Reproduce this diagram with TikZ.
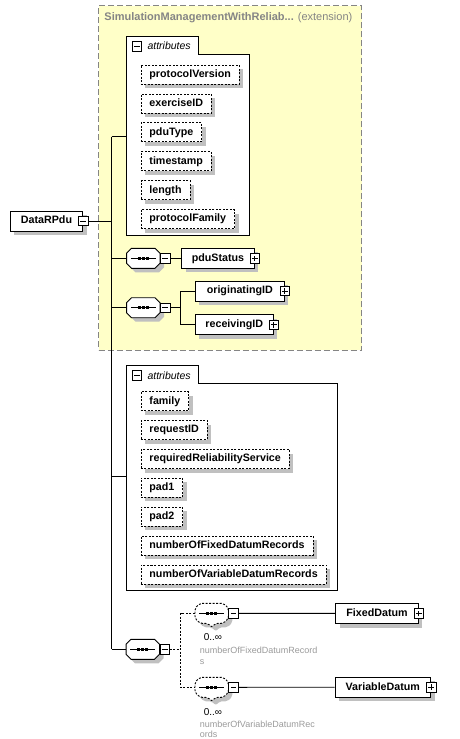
\documentclass[tikz,border=0pt]{standalone}
\usepackage{fontspec}
\setmainfont{Liberation Sans}
\usetikzlibrary{positioning,shadows}
\definecolor{extensionfill}{HTML}{FFFFC8}
\definecolor{extensiondraw}{HTML}{858585}
\definecolor{shadowgray}{HTML}{C0C0C0}
\definecolor{notegray}{HTML}{9A9A9A}

\begin{document}
\begin{tikzpicture}[
    x=1pt, y=-1pt,
    line width=0.9pt,
    shadowed/.style={general shadow={fill=shadowgray, shadow xshift=4pt, shadow yshift=-4pt}},
    element node/.style={rectangle, draw, fill=white, shadowed, minimum height=20pt, inner sep=0pt, text height=8pt, text depth=2.4pt, font=\fontsize{10.7}{12}\selectfont\bfseries},
    attribute node/.style={element node, dash pattern=on 2pt off 1.5pt, minimum height=19pt, inner xsep=8.5pt},
    extension box/.style={rectangle, draw=extensiondraw, fill=extensionfill, dash pattern=on 6pt off 3pt, inner sep=0pt, outer sep=0pt},
    group frame/.style={rectangle, inner sep=0pt, outer sep=0pt},
    tab label/.style={inner sep=0pt, font=\fontsize{10.5}{12}\selectfont\itshape},
    minus toggle/.style={rectangle, draw, solid, fill=white, minimum size=9.6pt, inner sep=0pt, line width=0.8pt,
        path picture={\draw[solid, line width=0.8pt] ([xshift=2pt]path picture bounding box.west) -- ([xshift=-2pt]path picture bounding box.east);}},
    plus toggle/.style={rectangle, draw, solid, fill=white, minimum size=9.6pt, inner sep=0pt, line width=0.8pt,
        path picture={\draw[solid, line width=0.8pt] ([xshift=2pt]path picture bounding box.west) -- ([xshift=-2pt]path picture bounding box.east)
                                                 ([yshift=2pt]path picture bounding box.south) -- ([yshift=-2pt]path picture bounding box.north);}},
    sequence node/.style={rectangle, minimum width=33.5pt, minimum height=20pt, inner sep=0pt, outer sep=0pt},
    sequence dots/.style={path picture={
          \draw[black, solid, sharp corners, line width=0.8pt] ([xshift=-12.5pt, yshift=#1]path picture bounding box.center) -- ([xshift=12.5pt, yshift=#1]path picture bounding box.center);
          \foreach \dx in {-4,0,4}
            \fill[black, sharp corners] ([xshift=\dx pt, yshift=#1]path picture bounding box.center) ++(-1.4pt,-1.4pt) rectangle ++(2.8pt,2.8pt);
        }},
    sequence outline/.style={draw, fill=white, shadowed, sequence dots=0pt},
    optional outline/.style={draw, fill=white, shadowed, dash pattern=on 2pt off 1.5pt, rounded corners=2pt, sequence dots=2pt},
    occurs label/.style={inner sep=0pt, font=\fontsize{10}{12}\selectfont},
    note label/.style={inner sep=0pt, align=left, text=notegray, font=\fontsize{9}{10.4}\selectfont}]

  \node[extension box, minimum width=263pt, minimum height=344.5pt, anchor=north west] (Extension) at (98.5,5.5) {};
  \node[anchor=west, inner sep=0pt, text=extensiondraw, font=\fontsize{11}{13}\selectfont] (ExtensionTitle) at (104,18) {\textbf{SimulationManagementWithReliab...} (extension)};

  \coordinate (TrunkTop) at (111.7,136.7);
  \coordinate (TrunkBottom) at (111.7,649.3);
  \coordinate (Attrs2Link) at (111.7,476.7);

  \node[element node, minimum width=72.4pt] (DataRPdu) at (46.5,221) {DataRPdu};
  \node[minus toggle] (DataRPduToggle) at (DataRPdu.east) {};

  % first attribute group
  \node[group frame, minimum width=122.6pt, minimum height=180.7pt, anchor=north west] (Attrs1) at (126.7,54.3) {};
  \node[group frame, minimum width=71.6pt, minimum height=18.3pt, anchor=south west] (Attrs1Tab) at (Attrs1.north west) {};
  \draw[fill=white] (Attrs1.south west) |- (Attrs1Tab.north east) |- (Attrs1.north east) -- (Attrs1.south east) -- cycle;
  \node[minus toggle, yshift=-1pt] (Attrs1Toggle) [right=5pt of Attrs1Tab.west] {};
  \node[tab label] (Attrs1Label) [right=5pt of Attrs1Toggle] {attributes};

  \node[attribute node, anchor=west] (ProtocolVersion) at (140.5,74.6) {protocolVersion};
  \node[attribute node] (ExerciseID) [below right=9pt and 0pt of ProtocolVersion.south west] {exerciseID};
  \node[attribute node] (PduType) [below right=9pt and 0pt of ExerciseID.south west] {pduType};
  \node[attribute node] (Timestamp) [below right=9pt and 0pt of PduType.south west] {timestamp};
  \node[attribute node] (Length) [below right=9pt and 0pt of Timestamp.south west] {length};
  \node[attribute node] (ProtocolFamily) [below right=9pt and 0pt of Length.south west] {protocolFamily};

  % sequences inside the extension
  \node[sequence node] (Seq1) at (143.3,258.3) {};
  \draw[sequence outline] (Seq1.west) ++(0,-5) -- ++(5,-5) -- ++(23.5,0) -- ++(5,5) -- ++(0,10) -- ++(-5,5) -- ++(-23.5,0) -- ++(-5,-5) -- cycle;
  \node[minus toggle, right=0pt of Seq1] (Seq1Toggle) {};
  \node[element node, minimum width=72.6pt] (PduStatus) at (218,258.3) {pduStatus};
  \node[plus toggle] (PduStatusToggle) at (PduStatus.east) {};

  \node[sequence node] (Seq2) at (143.3,307.7) {};
  \draw[sequence outline] (Seq2.west) ++(0,-5) -- ++(5,-5) -- ++(23.5,0) -- ++(5,5) -- ++(0,10) -- ++(-5,5) -- ++(-23.5,0) -- ++(-5,-5) -- cycle;
  \node[minus toggle, right=0pt of Seq2] (Seq2Toggle) {};
  \coordinate (Seq2Branch) at (180.3,307.7);
  \node[element node, minimum width=89pt] (OriginatingID) at (239.8,291) {originatingID};
  \node[plus toggle] (OriginatingIDToggle) at (OriginatingID.east) {};
  \node[element node, minimum width=78pt] (ReceivingID) at (234.3,324.7) {receivingID};
  \node[plus toggle] (ReceivingIDToggle) at (ReceivingID.east) {};

  % second attribute group
  \node[group frame, minimum width=211pt, minimum height=206.3pt, anchor=north west] (Attrs2) at (126.7,383.7) {};
  \node[group frame, minimum width=71.6pt, minimum height=18.3pt, anchor=south west] (Attrs2Tab) at (Attrs2.north west) {};
  \draw[fill=white] (Attrs2.south west) |- (Attrs2Tab.north east) |- (Attrs2.north east) -- (Attrs2.south east) -- cycle;
  \node[minus toggle, yshift=-1pt] (Attrs2Toggle) [right=5pt of Attrs2Tab.west] {};
  \node[tab label] (Attrs2Label) [right=5pt of Attrs2Toggle] {attributes};

  \node[attribute node, anchor=west] (Family) at (140.5,401.2) {family};
  \node[attribute node] (RequestID) [below right=9pt and 0pt of Family.south west] {requestID};
  \node[attribute node] (RequiredReliabilityService) [below right=9pt and 0pt of RequestID.south west] {requiredReliabilityService};
  \node[attribute node] (Pad1) [below right=9pt and 0pt of RequiredReliabilityService.south west] {pad1};
  \node[attribute node] (Pad2) [below right=9pt and 0pt of Pad1.south west] {pad2};
  \node[attribute node] (NumberOfFixedDatumRecords) [below right=9pt and 0pt of Pad2.south west] {numberOfFixedDatumRecords};
  \node[attribute node] (NumberOfVariableDatumRecords) [below right=9pt and 0pt of NumberOfFixedDatumRecords.south west] {numberOfVariableDatumRecords};

  % datum records
  \node[sequence node] (Seq3) at (142.8,649.3) {};
  \draw[sequence outline] (Seq3.west) ++(0,-5) -- ++(5,-5) -- ++(23.5,0) -- ++(5,5) -- ++(0,10) -- ++(-5,5) -- ++(-23.5,0) -- ++(-5,-5) -- cycle;
  \node[minus toggle, right=0pt of Seq3] (Seq3Toggle) {};
  \coordinate (Seq3Branch) at (180.7,649.3);

  \node[sequence node] (SeqFixed) at (211.7,613.3) {};
  \draw[optional outline] (SeqFixed.west) ++(0,-5) -- ++(5,-5) -- ++(23.5,0) -- ++(5,5) -- ++(0,10) -- ++(-5,5) -- ++(-7.75,0) -- ++(-4,4) -- ++(-4,-4) -- ++(-7.75,0) -- ++(-5,-5) -- cycle;
  \node[minus toggle, right=0pt of SeqFixed] (SeqFixedToggle) {};
  \node[occurs label] (SeqFixedOccurs) at (213,637.3) {0..∞};
  \node[note label, anchor=north west] (SeqFixedNote) at (199.5,646.8) {numberOfFixedDatumRecord\\s};
  \node[element node, minimum width=82.6pt] (FixedDatum) at (377,613.5) {FixedDatum};
  \node[plus toggle] (FixedDatumToggle) at (FixedDatum.east) {};

  \node[sequence node] (SeqVariable) at (211.7,687.3) {};
  \draw[optional outline] (SeqVariable.west) ++(0,-5) -- ++(5,-5) -- ++(23.5,0) -- ++(5,5) -- ++(0,10) -- ++(-5,5) -- ++(-7.75,0) -- ++(-4,4) -- ++(-4,-4) -- ++(-7.75,0) -- ++(-5,-5) -- cycle;
  \node[minus toggle, right=0pt of SeqVariable] (SeqVariableToggle) {};
  \node[occurs label] (SeqVariableOccurs) at (213,711.7) {0..∞};
  \node[note label, anchor=north west] (SeqVariableNote) at (199.5,720.5) {numberOfVariableDatumRec\\ords};
  \node[element node, minimum width=95.7pt] (VariableDatum) at (382.8,687.2) {VariableDatum};
  \node[plus toggle] (VariableDatumToggle) at (VariableDatum.east) {};

  \draw (DataRPduToggle) -- (DataRPduToggle -| TrunkTop);
  \draw (TrunkTop) -- (TrunkBottom);
  \draw (TrunkTop) -- (TrunkTop -| Attrs1.west);
  \draw (Seq1 -| TrunkTop) -- (Seq1);
  \draw (Seq2 -| TrunkTop) -- (Seq2);
  \draw (Attrs2Link) -- (Attrs2Link -| Attrs2.west);
  \draw (TrunkBottom) -- (Seq3);
  \draw (Seq1Toggle) -- (PduStatus);
  \draw (Seq2Toggle) -- (Seq2Branch);
  \draw (OriginatingID.west) -| (Seq2Branch) |- (ReceivingID.west);
  \draw[dash pattern=on 2pt off 1.5pt] (Seq3Toggle) -- (Seq3Branch);
  \draw[dash pattern=on 2pt off 1.5pt] (SeqFixed.west) -| (Seq3Branch) |- (SeqVariable.west);
  \draw (SeqFixedToggle) -- (FixedDatum);
  \draw (SeqVariableToggle) -- (VariableDatum);

  \useasboundingbox (0,0) rectangle (460,739);
\end{tikzpicture}
\end{document}
